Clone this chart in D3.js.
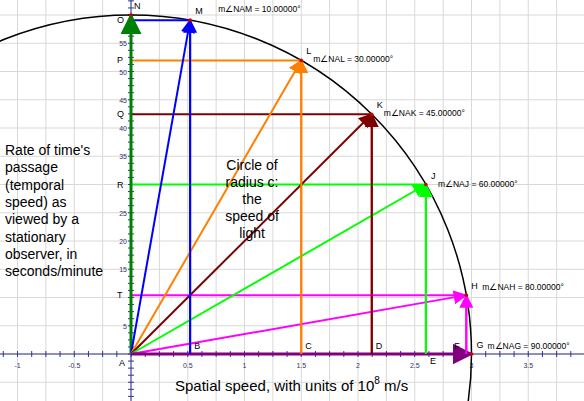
<!DOCTYPE html>
<html><head><meta charset="utf-8">
<script src="https://cdn.jsdelivr.net/npm/d3@7"></script>
<style>body{margin:0;background:#fff}svg{font-family:Arial,"Liberation Sans",sans-serif}</style>
</head><body>
<script>
// angles measured from the vertical (N) axis
var pointNames = ["N","M","L","K","J","H","G"];
var axisNames  = ["O","O","P","Q","R","T",""];
var footNames  = ["","B","C","D","E","F",""];
var angles     = [0, 10, 30, 45, 60, 80, 90];
var colors     = ["#008000","#0000ff","#ff8000","#800000","#00ff00","#ff00ff","#800080"];
var xTicks = [-1,-0.5,0.5,1,1.5,2,2.5,3,3.5];
var yTicks = [5,15,20,25,35,40,45,50,55];
var C = 3, T = 60;

var W = 584, H = 401;
var x = d3.scaleLinear().domain([0,1]).range([131,244.5]);
var y = d3.scaleLinear().domain([0,60]).range([354,15]);
var svg = d3.select("body").append("svg").attr("width",W).attr("height",H);

// grid
svg.append("g").selectAll("line").data(d3.range(-1.25,4.01,0.25)).join("line")
  .attr("x1",d=>x(d)).attr("x2",d=>x(d)).attr("y1",0).attr("y2",H)
  .attr("stroke","#d8d8d8");
svg.append("g").selectAll("line").data(d3.range(-10,66,5)).join("line")
  .attr("y1",d=>y(d)).attr("y2",d=>y(d)).attr("x1",0).attr("x2",W)
  .attr("stroke","#d8d8d8");

// axes
var ax = "#333399";
svg.append("line").attr("x1",0).attr("x2",W).attr("y1",y(0)).attr("y2",y(0)).attr("stroke",ax);
svg.append("line").attr("x1",x(0)).attr("x2",x(0)).attr("y1",0).attr("y2",H).attr("stroke",ax);
svg.append("g").selectAll("line").data(d3.range(-1.25,4.2,0.125)).join("line")
  .attr("x1",d=>x(d)).attr("x2",d=>x(d)).attr("y1",y(0)-3).attr("y2",y(0)+3).attr("stroke",ax);
svg.append("g").selectAll("line").data(d3.range(-10,64,1.25)).join("line")
  .attr("y1",d=>y(d)).attr("y2",d=>y(d)).attr("x1",x(0)-3).attr("x2",x(0)+3).attr("stroke",ax);
svg.append("g").selectAll("text").data(xTicks).join("text")
  .attr("x",d=>x(d)).attr("y",y(0)+14).attr("text-anchor","middle")
  .attr("font-size",7).attr("fill","#333366").text(d=>d);
svg.append("g").selectAll("text").data(yTicks).join("text")
  .attr("x",x(0)-4).attr("y",d=>y(d)+3).attr("text-anchor","end")
  .attr("font-size",7).attr("fill","#333366").text(d=>d);

// circle of radius c
svg.append("ellipse").attr("cx",x(0)).attr("cy",y(0))
  .attr("rx",x(C)-x(0)).attr("ry",y(0)-y(T))
  .attr("fill","none").attr("stroke","#000").attr("stroke-width",1.5);

var pts = angles.map(function(a,i){
  var r = a*Math.PI/180;
  return {name:pointNames[i], ax:axisNames[i], ft:footNames[i], a:a, c:colors[i],
          vx:C*Math.sin(r), vy:T*Math.cos(r)};
});

var defs = svg.append("defs");
pts.forEach(function(p,i){
  defs.append("marker").attr("id","m"+i).attr("viewBox","0 0 10 10")
    .attr("refX",9).attr("refY",5).attr("markerWidth",7).attr("markerHeight",7)
    .attr("markerUnits","strokeWidth").attr("orient","auto")
    .append("path").attr("d","M0,0L10,5L0,10z").attr("fill",p.c);
});

// projections
pts.forEach(function(p,i){
  if (i>0 && i<6) {
    svg.append("line").attr("x1",x(p.vx)).attr("x2",x(p.vx)).attr("y1",y(p.vy)).attr("y2",y(0))
      .attr("stroke",p.c).attr("stroke-width",2);
    svg.append("line").attr("x1",x(0)).attr("x2",x(p.vx)).attr("y1",y(p.vy)).attr("y2",y(p.vy))
      .attr("stroke",p.c).attr("stroke-width",2);
  }
});
// vectors
pts.forEach(function(p,i){
  svg.append("line").attr("x1",x(0)).attr("y1",y(0)).attr("x2",x(p.vx)).attr("y2",y(p.vy))
    .attr("stroke",p.c).attr("stroke-width",i==6||i==0?3:2).attr("marker-end","url(#m"+i+")");
});
// arrows from axis points to the tip
pts.forEach(function(p,i){
  if (i>0 && i<6) {
    svg.append("line").attr("x1",x(p.vx)).attr("y1",y(0)).attr("x2",x(p.vx)).attr("y2",y(p.vy))
      .attr("stroke",p.c).attr("stroke-width",2).attr("marker-end","url(#m"+i+")");
  }
});

// point labels and dots
pts.forEach(function(p,i){
  svg.append("circle").attr("cx",x(p.vx)).attr("cy",y(p.vy)).attr("r",1.8).attr("fill","#c00");
  svg.append("text").attr("x",x(p.vx)+(i==0?3:5)).attr("y",y(p.vy)-6)
    .attr("font-size",9).text(p.name);
  if (p.ax && i>0) svg.append("text").attr("x",x(0)-14).attr("y",y(p.vy)+3).attr("font-size",9).text(p.ax);
  if (p.ft) svg.append("text").attr("x",x(p.vx)+(i==5?-12:4)).attr("y",y(0)-(i==4?-10:5))
    .attr("font-size",9).text(p.ft);
  if (i>0) svg.append("text").attr("x",x(p.vx)+(i==1?28:i==6?16:i==5?16:12)).attr("y",y(p.vy)+(i==1?-8:i>=5?-5:2))
    .attr("font-size",8.5).text("m\u2220NA"+p.name+" = "+p.a.toFixed(5)+"\u00b0");
});
svg.append("text").attr("x",x(0)-12).attr("y",y(0)+12).attr("font-size",9).text("A");

// texts
svg.append("text").attr("x",252).attr("y",170).attr("text-anchor","middle").attr("font-size",14)
  .selectAll("tspan").data(["Circle of","radius c:","the","speed of","light"]).join("tspan")
  .attr("x",252).attr("dy",(d,i)=>i?17:0).text(d=>d);
svg.append("text").attr("x",5).attr("y",155).attr("font-size",14)
  .selectAll("tspan").data(["Rate of time's","passage","(temporal","speed) as","viewed by a","stationary","observer, in","seconds/minute"]).join("tspan")
  .attr("x",5).attr("dy",(d,i)=>i?17.3:0).text(d=>d);
var t = svg.append("text").attr("x",175).attr("y",391).attr("font-size",15);
t.append("tspan").text("Spatial speed, with units of 10");
t.append("tspan").attr("dy",-7).attr("font-size",10).text("8");
t.append("tspan").attr("dy",7).text(" m/s");
</script>
</body></html>
